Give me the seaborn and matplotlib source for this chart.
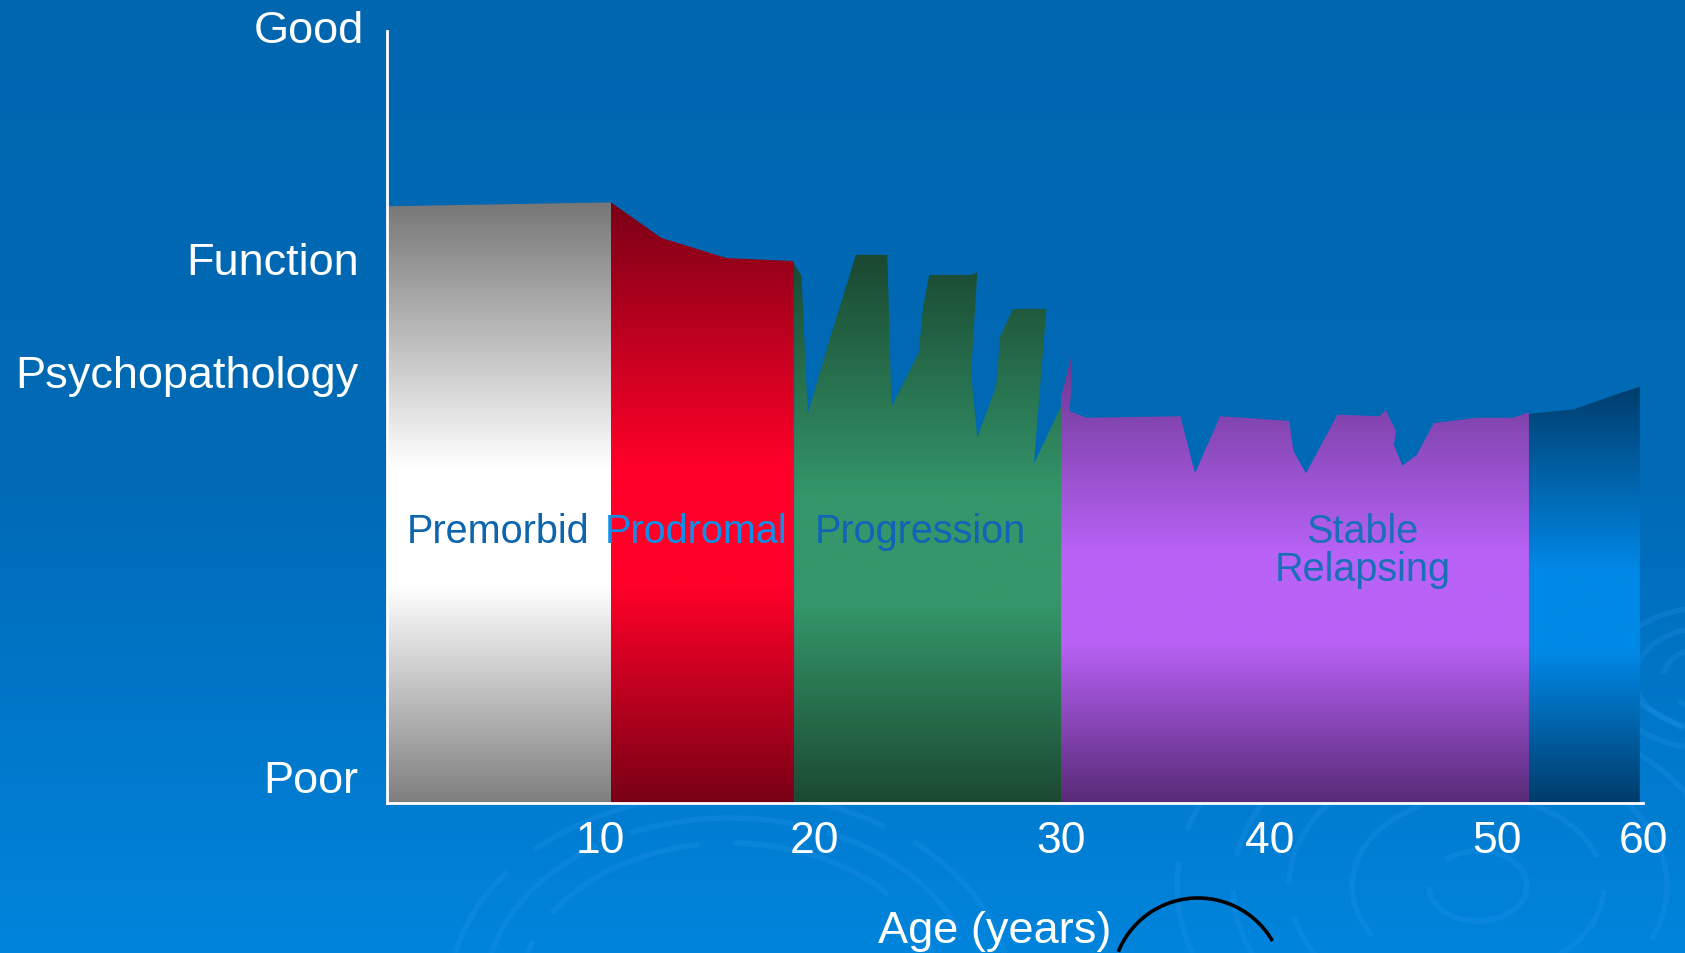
import numpy as np
import matplotlib
matplotlib.use("Agg")
import matplotlib.pyplot as plt
import seaborn as sns
from matplotlib.colors import LinearSegmentedColormap
from matplotlib.patches import Polygon, Ellipse, Arc

# --- data: top edge of each phase (age in years, function score 0-100) ---
premorbid_age = [0.0, 10.7]
premorbid_fn = [77.3, 77.8]

prodromal_age = [10.7, 13.1, 16.2, 19.35, 19.45]
prodromal_fn = [77.8, 73.2, 70.6, 70.2, 70.0]

progression_age = [19.45, 19.8, 20.1, 21.2, 22.4, 23.9, 24.1, 25.4, 25.6, 25.9,
                   27.9, 28.2, 27.9, 28.2, 29.1, 29.3, 29.9, 31.5, 30.9, 32.2]
progression_fn = [69.8, 68.3, 50.4, 60.5, 71.0, 71.0, 51.3, 58.3, 64.0, 68.4,
                  68.4, 68.7, 55.6, 47.3, 54.0, 60.5, 64.0, 64.0, 43.9, 51.4]

relapsing_age = [32.2, 32.7, 32.7, 32.6, 33.4, 37.9, 38.6, 39.8, 43.1, 43.3, 43.9,
                 45.4, 47.4, 47.7, 48.2, 48.1, 48.5, 49.2, 50.0, 52.0, 53.8, 54.55]
relapsing_fn = [52.7, 57.9, 53.6, 50.8, 49.9, 50.1, 42.7, 50.1, 49.5, 45.6, 42.7,
                50.3, 50.1, 50.9, 48.2, 46.4, 43.7, 45.1, 49.2, 49.9, 49.9, 50.6]

late_age = [54.55, 56.7, 58.8, 59.85]
late_fn = [50.4, 51.0, 53.0, 53.9]

phase_labels = ["Premorbid", "Prodromal", "Progression", "Stable", "Relapsing"]
phase_label_x = [5.3, 14.76, 25.46, 46.6, 46.6]
phase_label_y = [33.8, 33.8, 33.8, 33.8, 28.9]
phase_label_colors = ["#0d65ad", "#0f8fe8", "#1064b8", "#1a70b8", "#1a70b8"]

level_labels = ["Good", "Function", "Psychopathology", "Poor"]
level_y = [98.6, 68.5, 53.9, 1.4]

tick_pos = [10.18, 20.4, 32.2, 42.18, 53.02, 60.0]
tick_labels = ["10", "20", "30", "40", "50", "60"]

sns.set_theme(style="white")
plt.rcParams["font.family"] = ["Liberation Sans", "DejaVu Sans"]

W, H = 1685, 954
fig = plt.figure(figsize=(W / 100, H / 100), dpi=100)

# background gradient + faint decorative rings
bg = fig.add_axes([0, 0, 1, 1], zorder=0)
bg_cmap = LinearSegmentedColormap.from_list(
    "bg", [(0, "#0084dc"), (0.5, "#006ab6"), (1, "#0066b0")])
bg.imshow(np.linspace(0, 1, 256).reshape(-1, 1), cmap=bg_cmap, origin="lower",
          extent=[0, W, 0, H], aspect="auto")
for cx, cy, radii in [(1478, 67, [35, 90, 135, 175, 215]),
                      (730, -40, [150, 175, 200]),
                      (1705, 275, [30, 50, 70])]:
    for r in radii:
        bg.add_patch(Ellipse((cx, cy), 2.8 * r, 2 * r, fill=False,
                             edgecolor="#2a9af0", lw=4, alpha=0.22,
                             linestyle=(0, (30, 6))))
bg.add_patch(Arc((1198, -31), 172, 172, theta1=30, theta2=158,
                 edgecolor="black", lw=2.6))
bg.set_xlim(0, W)
bg.set_ylim(0, H)
bg.axis("off")

ax = fig.add_axes([387 / W, 150 / H, (1643 - 387) / W, 772 / H], zorder=1)
ax.set_facecolor("none")


def gradient_area(ages, fns, top, mid, bottom):
    verts = [(ages[0], 0)] + list(zip(ages, fns)) + [(ages[-1], 0)]
    poly = Polygon(verts, closed=True, facecolor="none", edgecolor="none")
    ax.add_patch(poly)
    cmap = LinearSegmentedColormap.from_list(
        "g", [(0, bottom), (0.36, mid), (0.56, mid), (1, top)])
    im = ax.imshow(np.linspace(0, 1, 256).reshape(-1, 1), cmap=cmap,
                   origin="lower", aspect="auto", interpolation="bilinear",
                   extent=[min(ages), max(ages), 0, max(fns)], zorder=2)
    im.set_clip_path(poly)


gradient_area(premorbid_age, premorbid_fn, "#777777", "#ffffff", "#7f7f7f")
gradient_area(prodromal_age, prodromal_fn, "#7a0016", "#ff0028", "#780015")
gradient_area(progression_age, progression_fn, "#1a4830", "#34966a", "#1b4a30")
gradient_area(relapsing_age, relapsing_fn, "#6a3890", "#b862f6", "#582a78")
gradient_area(late_age, late_fn, "#003d6c", "#0088e6", "#003c6a")

for lab, x, y, c in zip(phase_labels, phase_label_x, phase_label_y, phase_label_colors):
    ax.text(x, y, lab, ha="center", va="baseline", fontsize=28.5, color=c, zorder=4)

for lab, y in zip(level_labels, level_y):
    gap = -0.018 if lab == "Good" else -0.0225
    ax.text(gap, y, lab, transform=ax.get_yaxis_transform(), ha="right",
            va="baseline", fontsize=32.5, color="white", clip_on=False)

ax.set_xlim(0, 60)
ax.set_ylim(0, 100)
ax.set_xticks(tick_pos)
ax.set_xticklabels(tick_labels)
ax.set_yticks([])
ax.tick_params(axis="x", length=0, pad=12, labelsize=32, labelcolor="white")
ax.text(29.05, -0.18, "Age (years)", transform=ax.get_xaxis_transform(),
        ha="center", va="baseline", fontsize=32.5, color="white")

sns.despine(ax=ax)
for side in ["left", "bottom"]:
    ax.spines[side].set_color("white")
    ax.spines[side].set_linewidth(2)
    ax.spines[side].set_zorder(5)

fig.savefig("out.png", dpi=100)
